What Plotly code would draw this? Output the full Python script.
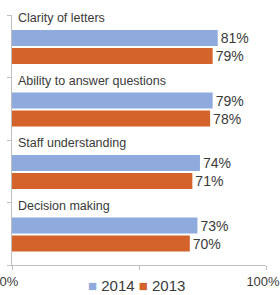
import plotly.graph_objects as go

categories = ["Clarity of letters", "Ability to answer questions", "Staff understanding", "Decision making"]
values_2014 = [81, 79, 74, 73]
values_2013 = [79, 78, 71, 70]
series_names = ["2014", "2013"]
x_tick_vals = [0, 50, 100]
x_tick_text = ["0%", "", "100%"]

BLUE = "#8FAADC"
ORANGE = "#D4622B"
TEXT = "#3a3a3a"
FONT = "Liberation Sans, Arial, sans-serif"

pos = list(range(len(categories)))

fig = go.Figure()
fig.add_trace(go.Bar(
    y=pos, x=values_2014, orientation="h", name=series_names[0],
    marker=dict(color=BLUE, line=dict(width=0)),
    width=0.256, offset=-0.26,
    text=[f"{v}%" for v in values_2014], textposition="outside",
    textfont=dict(size=14, color=TEXT, family=FONT),
    constraintext="none", cliponaxis=False, showlegend=False,
))
fig.add_trace(go.Bar(
    y=pos, x=values_2013, orientation="h", name=series_names[1],
    marker=dict(color=ORANGE, line=dict(width=0)),
    width=0.256, offset=0.028,
    text=[f"{v}%" for v in values_2013], textposition="outside",
    textfont=dict(size=14, color=TEXT, family=FONT),
    constraintext="none", cliponaxis=False, showlegend=False,
))

annotations = []
for i, c in enumerate(categories):
    annotations.append(dict(
        x=0, y=i - 0.5, xref="x", yref="y", text=c, showarrow=False,
        xanchor="left", yanchor="middle", xshift=4, yshift=-3,
        font=dict(size=12.5, color=TEXT, family=FONT),
    ))

legend_text = (f'<span style="color:{BLUE}">■</span> {series_names[0]} '
               f'<span style="color:{ORANGE}">■</span> {series_names[1]}')
plot_w = 280 - 12 - 14
plot_h = 295 - 15 - 30
annotations.append(dict(
    x=(136 - 12) / plot_w, y=(295 - 30 - 285) / plot_h, xref="paper", yref="paper",
    text=legend_text, showarrow=False, xanchor="center", yanchor="middle",
    font=dict(size=15, color=TEXT, family=FONT),
))

fig.update_layout(
    width=280, height=295,
    margin=dict(l=12, r=14, t=15, b=30, autoexpand=False),
    paper_bgcolor="white", plot_bgcolor="white",
    barmode="overlay",
    annotations=annotations,
    xaxis=dict(
        range=[0, 100], tickvals=x_tick_vals, ticktext=x_tick_text,
        showgrid=False, zeroline=False, showline=True, linecolor="#BFBFBF", linewidth=1,
        ticks="outside", ticklen=4, tickcolor="#BFBFBF",
        tickfont=dict(size=13, color=TEXT, family=FONT),
        ticklabeloverflow="allow", ticklabelshift=-3,
        automargin=False, fixedrange=True,
    ),
    yaxis=dict(
        range=[len(categories) - 0.5, -0.5],
        tickvals=[i - 0.5 for i in range(len(categories) + 1)],
        ticktext=[""] * (len(categories) + 1),
        showgrid=False, zeroline=False, showline=True, linecolor="#BFBFBF", linewidth=1,
        ticks="outside", ticklen=4, tickcolor="#BFBFBF",
        automargin=False, fixedrange=True,
    ),
)

fig.write_html(
    "out.html",
    config={"displayModeBar": False},
    post_script="document.body.style.margin='0px';document.body.style.overflow='hidden';",
)
